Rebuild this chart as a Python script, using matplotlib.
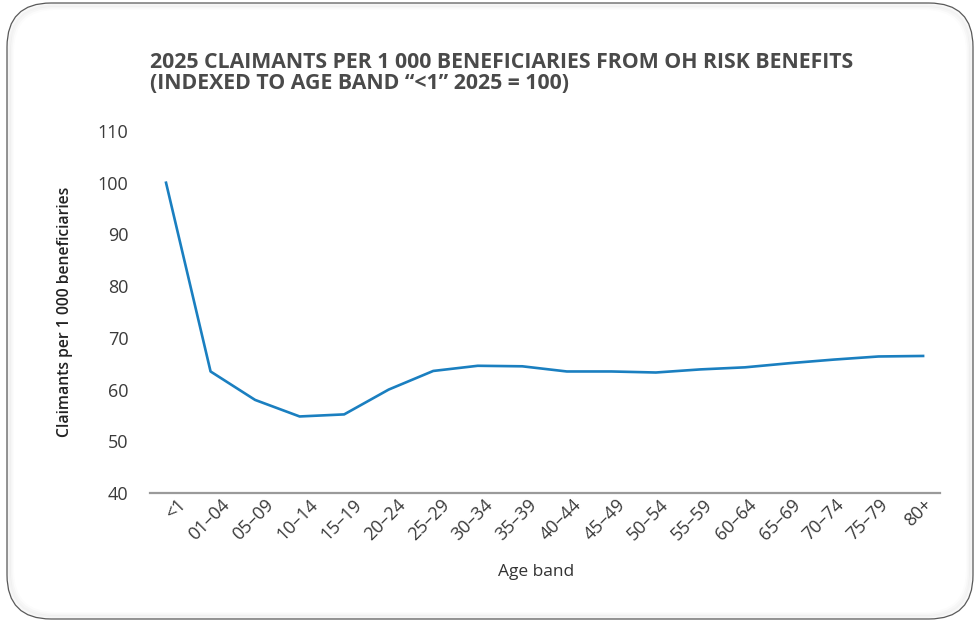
import matplotlib
matplotlib.use("Agg")
import matplotlib.pyplot as plt
import numpy as np
from matplotlib.patches import FancyBboxPatch
from matplotlib.transforms import ScaledTranslation

age_bands = ["<1", "01–04", "05–09", "10–14", "15–19", "20–24", "25–29", "30–34",
             "35–39", "40–44", "45–49", "50–54", "55–59", "60–64", "65–69",
             "70–74", "75–79", "80+"]
claimants_index = [100.0, 63.5, 58.0, 54.8, 55.2, 60.0, 63.6, 64.6, 64.5, 63.5,
                   63.5, 63.3, 63.9, 64.3, 65.1, 65.8, 66.4, 66.5]
y_ticks = [40, 50, 60, 70, 80, 90, 100, 110]

title = ("2025 CLAIMANTS PER 1 000 BENEFICIARIES FROM OH RISK BENEFITS\n"
         "(INDEXED TO AGE BAND \u201c<1\u201d 2025 = 100)")

plt.rcParams["font.family"] = ["Open Sans", "DejaVu Sans"]
W, H = 978, 621
fig = plt.figure(figsize=(W / 100, H / 100), dpi=100)
fig.patch.set_facecolor("white")


def fx(px):
    return px / W


def fy(py):
    return 1 - py / H


# rounded card with a faint inner shade along its edge
for inset, alpha in [(5, 0.012), (3.5, 0.018), (2, 0.028)]:
    shade = FancyBboxPatch((fx(7 + inset), fy(619 - inset)), fx(966 - 2 * inset),
                           (616 - 2 * inset) / H,
                           boxstyle="round,pad=0,rounding_size=0.045",
                           transform=fig.transFigure, facecolor="none",
                           edgecolor="#000000", alpha=alpha, linewidth=3,
                           mutation_aspect=W / H, zorder=-9)
    fig.patches.append(shade)
card = FancyBboxPatch((fx(7), fy(619)), fx(966), 616 / H,
                      boxstyle="round,pad=0,rounding_size=0.045",
                      transform=fig.transFigure, facecolor="white",
                      edgecolor="#5a5a5a", linewidth=0.9,
                      mutation_aspect=W / H, zorder=-10)
fig.patches.append(card)

ax = fig.add_axes([fx(150), fy(493), fx(940 - 150), (493 - 131) / H])
ax.set_zorder(1)
ax.set_facecolor("none")
x = np.arange(len(age_bands))
ax.plot(x, claimants_index, color="#1a7fc0", linewidth=1.9, solid_joinstyle="round")

ax.set_xlim(-0.36, 17.38)
ax.set_ylim(40, 110)
ax.set_yticks(y_ticks)
ax.set_yticklabels([str(v) for v in y_ticks], fontsize=13, color="#3a3a3a")

# category labels sit at the centres of equal bands along the axis
n = len(age_bands)
lo, hi = ax.get_xlim()
band_centres = lo + (hi - lo) * (np.arange(n) + 0.5) / n
ax.set_xticks(band_centres)
ax.set_xticklabels(age_bands, rotation=45, ha="right", rotation_mode="anchor",
                   fontsize=13, color="#3a3a3a")
ax.tick_params(axis="y", length=0, pad=15.5)
ax.tick_params(axis="x", length=0, pad=2)
for lbl in ax.get_xticklabels():
    lbl.set_transform(lbl.get_transform() +
                      ScaledTranslation(5 / 100, 0, fig.dpi_scale_trans))

for side in ["top", "right", "left"]:
    ax.spines[side].set_visible(False)
ax.spines["bottom"].set_color("#9a9a9a")
ax.spines["bottom"].set_linewidth(1.6)

ax.set_xlabel("Age band", fontsize=12.5, color="#333333")
ax.xaxis.set_label_coords((536 - 150) / 790, -(572 - 493) / (493 - 131))
ax.xaxis.label.set_va("center")
ax.set_ylabel("Claimants per 1 000 beneficiaries", fontsize=11.3, color="#222222",
              fontweight="semibold")
ax.yaxis.set_label_coords(-(150 - 65) / 790, 0.5)
ax.yaxis.label.set_va("center")

fig.text(fx(150), fy(52), title, ha="left", va="top", fontsize=15.3,
         fontweight="bold", color="#4a4a4a", linespacing=1.0)

fig.savefig("out.png", dpi=100)
